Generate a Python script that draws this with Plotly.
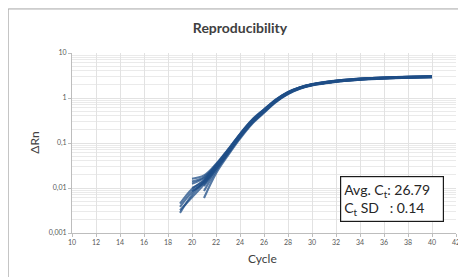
import plotly.graph_objects as go

# ---- data ----
x_ticks = list(range(10, 43, 2))
y_major_vals = [0.001, 0.01, 0.1, 1, 10]
y_major_text = ["0,001", "0,01", "0,1", "1", "10"]

start_cycles = [19, 19, 19, 20, 20, 20, 20, 20, 21, 21, 21, 19]

rep_01 = [0.0028, 0.0070, 0.0140, 0.030, 0.066, 0.150, 0.31, 0.54, 0.90, 1.33, 1.71, 2.01, 2.22, 2.40, 2.55, 2.67, 2.76, 2.83, 2.89, 2.94, 2.98, 3.01]
rep_02 = [0.0038, 0.0082, 0.0132, 0.028, 0.062, 0.140, 0.29, 0.51, 0.86, 1.28, 1.66, 1.96, 2.16, 2.34, 2.48, 2.60, 2.69, 2.76, 2.82, 2.87, 2.91, 2.94]
rep_03 = [0.0045, 0.0095, 0.0150, 0.032, 0.070, 0.158, 0.32, 0.55, 0.92, 1.35, 1.73, 2.03, 2.24, 2.42, 2.57, 2.69, 2.78, 2.85, 2.91, 2.96, 3.00, 3.03]
rep_04 = [0.0160, 0.0190, 0.034, 0.072, 0.160, 0.33, 0.56, 0.93, 1.36, 1.74, 2.04, 2.25, 2.43, 2.58, 2.70, 2.79, 2.86, 2.92, 2.97, 3.01, 3.04]
rep_05 = [0.0125, 0.0165, 0.031, 0.067, 0.152, 0.31, 0.54, 0.90, 1.32, 1.70, 2.00, 2.20, 2.38, 2.52, 2.64, 2.73, 2.80, 2.86, 2.91, 2.95, 2.98]
rep_06 = [0.0100, 0.0145, 0.030, 0.065, 0.146, 0.30, 0.52, 0.88, 1.30, 1.68, 1.98, 2.18, 2.36, 2.50, 2.62, 2.71, 2.78, 2.84, 2.89, 2.93, 2.96]
rep_07 = [0.0085, 0.0130, 0.028, 0.062, 0.140, 0.29, 0.50, 0.86, 1.28, 1.66, 1.96, 2.16, 2.34, 2.48, 2.60, 2.69, 2.76, 2.82, 2.87, 2.91, 2.94]
rep_08 = [0.0140, 0.0175, 0.033, 0.070, 0.156, 0.32, 0.55, 0.91, 1.34, 1.72, 2.02, 2.23, 2.41, 2.56, 2.68, 2.77, 2.84, 2.90, 2.95, 2.99, 3.02]
rep_09 = [0.0086, 0.024, 0.057, 0.132, 0.275, 0.48, 0.83, 1.24, 1.62, 1.92, 2.12, 2.30, 2.44, 2.56, 2.65, 2.72, 2.78, 2.83, 2.87, 2.90]
rep_10 = [0.0060, 0.021, 0.053, 0.125, 0.265, 0.47, 0.81, 1.22, 1.60, 1.90, 2.10, 2.28, 2.42, 2.54, 2.63, 2.70, 2.76, 2.81, 2.85, 2.88]
rep_11 = [0.0110, 0.026, 0.060, 0.138, 0.285, 0.50, 0.85, 1.26, 1.64, 1.94, 2.14, 2.32, 2.46, 2.58, 2.67, 2.74, 2.80, 2.85, 2.89, 2.92]
rep_12 = [0.0032, 0.0062, 0.0120, 0.027, 0.060, 0.136, 0.28, 0.50, 0.85, 1.26, 1.64, 1.94, 2.14, 2.32, 2.46, 2.58, 2.67, 2.74, 2.80, 2.85, 2.89, 2.92]

replicates = [rep_01, rep_02, rep_03, rep_04, rep_05, rep_06,
              rep_07, rep_08, rep_09, rep_10, rep_11, rep_12]

avg_ct = "26.79"
ct_sd = "0.14"

# minor gridline values for the log axis
minor_vals = [m * d for d in [0.001, 0.01, 0.1, 1] for m in range(2, 10)]

fig = go.Figure()
for start, vals in zip(start_cycles, replicates):
    cycles = list(range(start, start + len(vals)))
    fig.add_trace(go.Scatter(
        x=cycles, y=vals, mode="lines",
        line=dict(color="rgb(31,78,135)", width=2.1, shape="spline", smoothing=1),
        opacity=0.75, showlegend=False, hoverinfo="skip",
    ))

font_family = "Lato, 'Open Sans', Arial, sans-serif"

# page body has an 8px margin, so figure coords = reference px - 8
W, H = 458, 269
pl, pr, pt, pb = 64.3, 10, 44.7, 43.7
pw = W - pl - pr
ph = H - pt - pb

def px(xr):
    return (xr - 8 - pl) / pw

def py(yr):
    return 1 - (yr - 8 - pt) / ph

fig.update_layout(
    width=W, height=H,
    margin=dict(l=pl, r=pr, t=pt, b=pb, autoexpand=False),
    paper_bgcolor="white", plot_bgcolor="white",
    font=dict(family=font_family, color="#404040"),
    title=dict(text="<b>Reproducibility</b>", x=(240 - 8) / W, xanchor="center",
               y=1 - (28 - 8) / H, yanchor="middle",
               font=dict(size=14, color="#404040", family=font_family)),
    xaxis=dict(
        range=[10, 42], tickmode="array", tickvals=x_ticks,
        ticktext=[str(v) for v in x_ticks],
        showgrid=True, gridcolor="#e2e2e2", gridwidth=1,
        showline=True, linecolor="#bdbdbd", linewidth=1,
        ticks="outside", ticklen=3, tickcolor="#bdbdbd",
        tickfont=dict(size=7, color="#595959"), zeroline=False,
    ),
    yaxis=dict(
        type="log", range=[-3, 1], tickmode="array",
        tickvals=y_major_vals, ticktext=y_major_text,
        showgrid=True, gridcolor="#e2e2e2", gridwidth=1,
        showline=True, linecolor="#bdbdbd", linewidth=1,
        ticks="outside", ticklen=3, tickcolor="#bdbdbd",
        tickfont=dict(size=7, color="#595959"), zeroline=False,
        minor=dict(tickmode="array", tickvals=minor_vals, showgrid=True,
                   gridcolor="#eaeaea", gridwidth=1, ticks=""),
    ),
    shapes=[dict(type="rect", xref="paper", yref="paper",
                 x0=px(8.5), x1=px(480), y0=py(290), y1=py(8.5),
                 line=dict(color="#a6a6a6", width=1), fillcolor="rgba(0,0,0,0)",
                 layer="below")],
    annotations=[
        dict(text="ΔRn", xref="paper", yref="paper",
             x=px(34), y=py(143),
             textangle=-90, showarrow=False, xanchor="center", yanchor="middle",
             font=dict(size=12, color="#404040", family=font_family)),
        dict(text="Cycle", xref="paper", yref="paper",
             x=px(263), y=py(259),
             showarrow=False, xanchor="center", yanchor="middle",
             font=dict(size=12, color="#404040", family=font_family)),
        dict(text="Avg. C<sub>t</sub>: " + avg_ct + "<br>C<sub>t</sub> SD\u00a0\u00a0\u00a0: " + ct_sd,
             xref="paper", yref="paper",
             x=px(340), y=py(176),
             xanchor="left", yanchor="top", align="left", showarrow=False,
             width=96, height=38, borderpad=3, borderwidth=1.2,
             bordercolor="#1a1a1a", bgcolor="white",
             font=dict(size=14, color="#262626", family=font_family)),
    ],
)

fig.write_html("out.html")
